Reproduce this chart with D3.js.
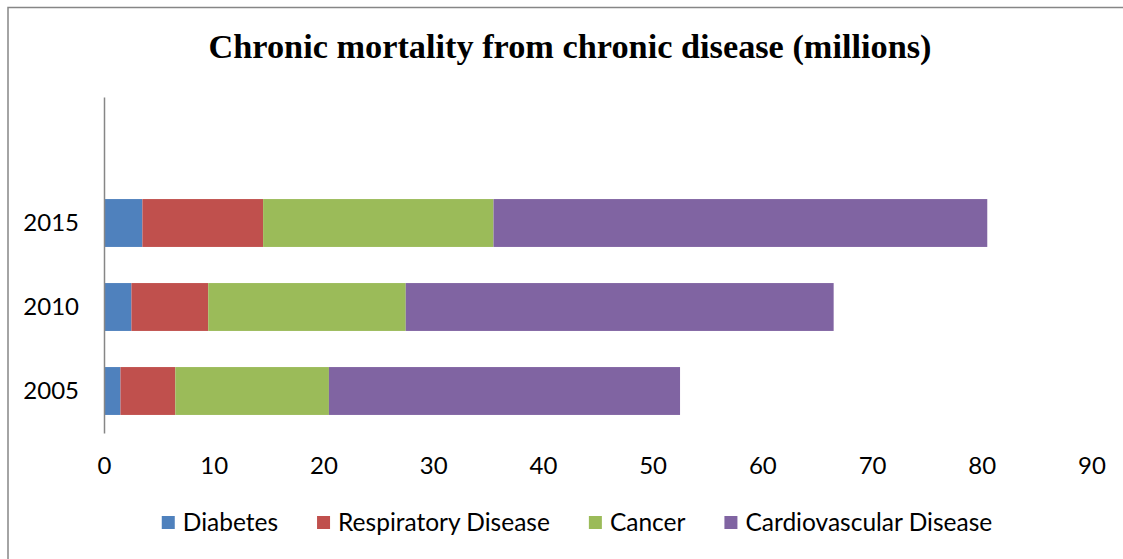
<!DOCTYPE html>
<html>
<head>
<meta charset="utf-8">
<script src="https://cdn.jsdelivr.net/npm/d3@7"></script>
<style>
  body { margin: 0; background: #fff; }
  .axis text { font-family: Lato, "Liberation Sans", sans-serif; font-size: 24px; fill: #000; }
  .legend { font-family: Lato, "Liberation Sans", sans-serif; font-size: 24.5px; fill: #000; }
  .title { font-family: "Liberation Serif", serif; font-weight: bold; font-size: 34.3px; fill: #000; }
</style>
</head>
<body>
<div id="chart"></div>
<script>
// Data
var years = ['2005', '2010', '2015'];
var diabetes = [1.5, 2.5, 3.5];
var respiratory = [5, 7, 11];
var cancer = [14, 18, 21];
var cardiovascular = [32, 39, 45];
var seriesNames = ['Diabetes', 'Respiratory Disease', 'Cancer', 'Cardiovascular Disease'];
var colors = ['#4F81BD', '#C0504D', '#9BBB59', '#8064A2'];
var xTicks = [0, 10, 20, 30, 40, 50, 60, 70, 80, 90];

var width = 1123;
var height = 559;

var rows = years.map(function (year, i) {
  return {
    year: year,
    'Diabetes': diabetes[i],
    'Respiratory Disease': respiratory[i],
    'Cancer': cancer[i],
    'Cardiovascular Disease': cardiovascular[i]
  };
});
var stacked = d3.stack().keys(seriesNames)(rows);

var svg = d3.select('#chart')
  .append('svg')
  .attr('width', width)
  .attr('height', height);

// Outer frame (bottom and right run off the picture)
svg.append('rect')
  .attr('x', 8)
  .attr('y', 7.5)
  .attr('width', 1200)
  .attr('height', 600)
  .attr('fill', '#fff')
  .attr('stroke', '#868686')
  .attr('stroke-width', 1.5);

// Scales
var xScale = d3.scaleLinear()
  .domain([0, 90])
  .range([104, 1091.5]);
// empty slot on top, as in the original sheet
var yScale = d3.scaleBand()
  .domain([''].concat(years.slice().reverse()))
  .range([97, 433])
  .paddingInner(0.43)
  .paddingOuter(0.215);

// Bars
svg.selectAll('g.series')
  .data(stacked)
  .enter()
  .append('g')
  .attr('class', 'series')
  .attr('fill', function (d, i) { return colors[i]; })
  .selectAll('rect')
  .data(function (d) { return d; })
  .enter()
  .append('rect')
  .attr('x', function (d) { return xScale(d[0]); })
  .attr('width', function (d) { return xScale(d[1]) - xScale(d[0]); })
  .attr('y', function (d) { return yScale(d.data.year); })
  .attr('height', yScale.bandwidth());

// X axis (labels only)
var xAxis = d3.axisBottom(xScale)
  .tickValues(xTicks)
  .tickSize(0)
  .tickPadding(0);
var gx = svg.append('g')
  .attr('class', 'axis')
  .attr('transform', 'translate(0,457)')
  .call(xAxis);
gx.select('.domain').remove();
gx.selectAll('text').attr('dy', '0.71em');

// Y axis
var yAxis = d3.axisLeft(yScale)
  .tickSize(0)
  .tickPadding(25);
var gy = svg.append('g')
  .attr('class', 'axis')
  .attr('transform', 'translate(104,0)')
  .call(yAxis);
gy.select('.domain')
  .attr('stroke', '#868686')
  .attr('stroke-width', 1.5);

// Title
svg.append('text')
  .attr('class', 'title')
  .attr('x', 570)
  .attr('y', 58)
  .attr('text-anchor', 'middle')
  .text('Chronic mortality from chronic disease (millions)');

// Legend
var legend = svg.append('g');
var lx = 0;
seriesNames.forEach(function (name, i) {
  var item = legend.append('g').attr('transform', 'translate(' + lx + ',0)');
  item.append('rect')
    .attr('x', 0)
    .attr('y', 516)
    .attr('width', 13)
    .attr('height', 13)
    .attr('fill', colors[i]);
  var t = item.append('text')
    .attr('class', 'legend')
    .attr('x', 21)
    .attr('y', 531)
    .text(name);
  lx += 21 + t.node().getComputedTextLength() + 39;
});
var legendWidth = lx - 39;
legend.attr('transform', 'translate(' + (577 - legendWidth / 2) + ',0)');
</script>
</body>
</html>
